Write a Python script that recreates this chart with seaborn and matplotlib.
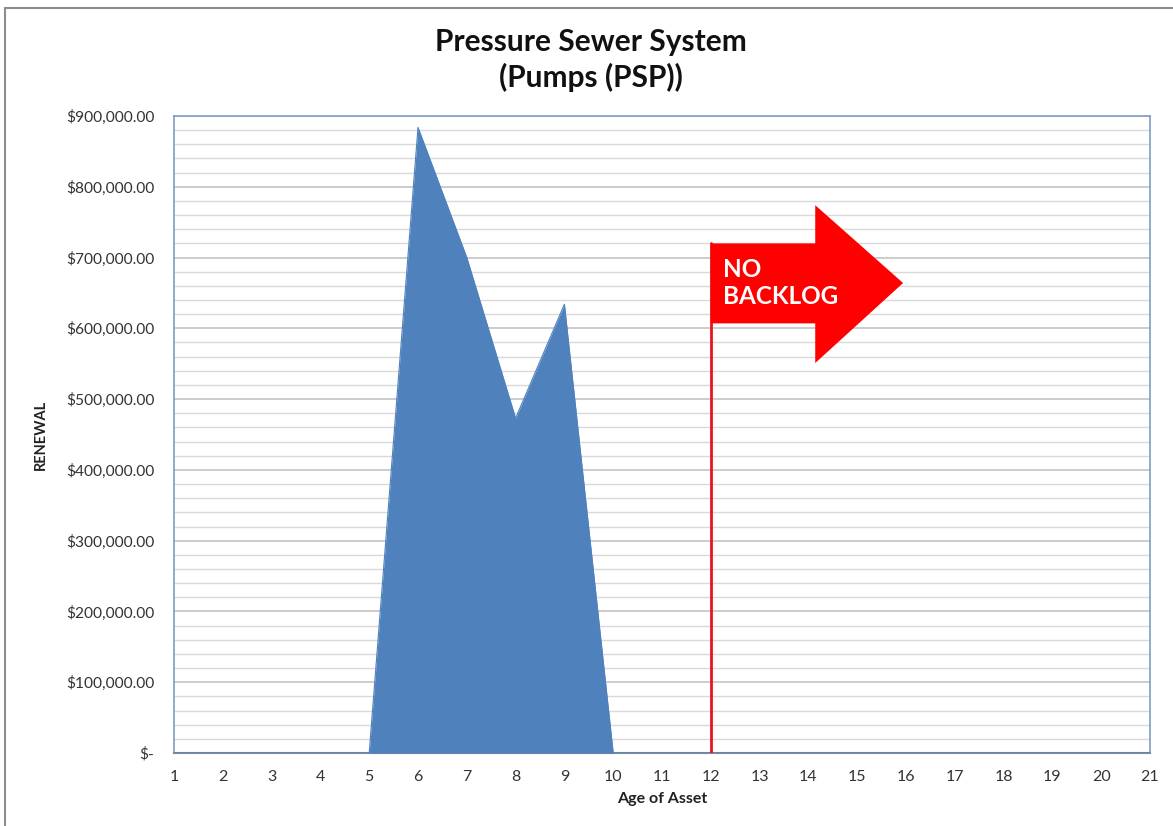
import matplotlib
matplotlib.use("Agg")
import matplotlib.pyplot as plt
import seaborn as sns
import pandas as pd
from matplotlib.patches import Polygon
from matplotlib.lines import Line2D
from matplotlib.ticker import MultipleLocator, FuncFormatter

sns.set_theme(style="white")
plt.rcParams["font.family"] = ["Lato", "DejaVu Sans"]

# Renewal cost by age of asset
ages = list(range(1, 22))
renewal = [0, 0, 0, 0, 0, 884000, 700000, 473000, 634000, 0,
           0, 0, 0, 0, 0, 0, 0, 0, 0, 0, 0]
backlog_age = 12
flag_label = "NO\nBACKLOG"

df = pd.DataFrame({"Age of Asset": ages, "RENEWAL": renewal})

fig = plt.figure(figsize=(11.73, 8.26), dpi=100)
ax = fig.add_axes([174 / 1173, 1 - 753 / 826, (1150 - 174) / 1173, (753 - 116) / 826])

fill_color = "#4F81BD"
ax.fill_between(df["Age of Asset"], df["RENEWAL"], 0, color=fill_color, lw=0, zorder=3)
sns.lineplot(data=df, x="Age of Asset", y="RENEWAL", ax=ax, color=fill_color, lw=0.8, zorder=3)

ax.set_xlim(1, 21)
ax.set_ylim(0, 900000)
ax.set_xticks(ages)
ax.yaxis.set_major_locator(MultipleLocator(100000))
ax.yaxis.set_minor_locator(MultipleLocator(20000))
ax.yaxis.set_major_formatter(FuncFormatter(lambda v, p: "$-" if v == 0 else f"${v:,.2f}"))
ax.grid(which="minor", axis="y", color="#d9d9d9", lw=1.0, zorder=0)
ax.grid(which="major", axis="y", color="#bfbfbf", lw=1.1, zorder=0)
ax.grid(axis="x", visible=False)

for side in ["top", "left", "right"]:
    ax.spines[side].set_color("#7f9cc4")
    ax.spines[side].set_linewidth(1.2)
ax.spines["bottom"].set_color("#7f8b99")
ax.spines["bottom"].set_linewidth(1.5)

ax.tick_params(axis="y", labelsize=11.2, colors="#333333", length=0, pad=14)
ax.tick_params(axis="x", labelsize=11.5, colors="#333333", length=0, pad=12)
ax.set_xlabel("Age of Asset", fontsize=11.5, fontweight="bold", color="#222222", labelpad=6)
ax.set_ylabel("RENEWAL", fontsize=10.5, fontweight="bold", color="#222222")
ax.yaxis.set_label_coords(-(174 - 48) / 976, 0.5)

# "No backlog" flag: pole at the backlog age with a right-pointing arrow
ax.plot([backlog_age, backlog_age], [0, 720000], color="#e8141c", lw=2, zorder=4)
flag = Polygon([(backlog_age, 720000), (14.14, 720000), (14.14, 774000),
                (15.94, 664000), (14.14, 551000), (14.14, 607000),
                (backlog_age, 607000)], closed=True, facecolor="#ff0000",
               edgecolor="none", zorder=5)
ax.add_patch(flag)
ax.text(backlog_age + 0.25, 700000, flag_label, color="white", fontsize=17.5,
        fontweight="bold", va="top", ha="left", linespacing=1.25, zorder=6)

fig.text(591 / 1173, 1 - 60 / 826, "Pressure Sewer System\n(Pumps (PSP))",
         ha="center", va="center", fontsize=21.5, fontweight="bold",
         color="#111111", linespacing=1.25)

# outer chart frame
fig.add_artist(Line2D([5 / 1173, 1], [1 - 8 / 826, 1 - 8 / 826], color="#8c8c8c", lw=1.5))
fig.add_artist(Line2D([5 / 1173, 5 / 1173], [0, 1 - 8 / 826], color="#8c8c8c", lw=1.5))

fig.savefig("out.png", dpi=100)
